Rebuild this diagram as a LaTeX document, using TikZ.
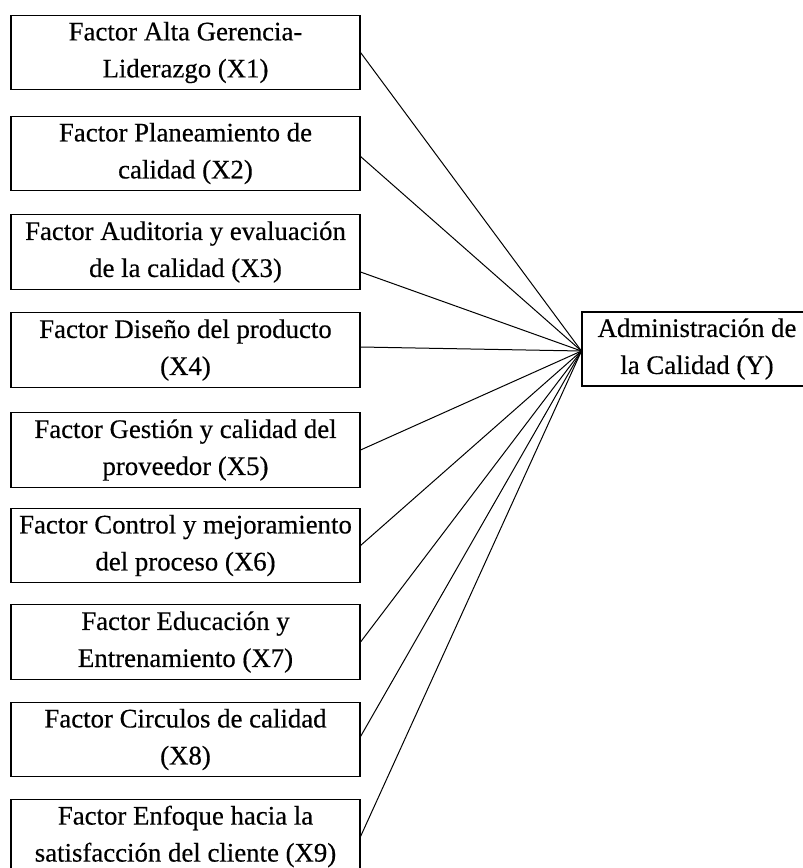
\documentclass[tikz,border=0pt]{standalone}
\usepackage{fontspec}
\setmainfont{Liberation Serif}
\newfontfamily\boxfont{Liberation Serif}[FakeBold=0.4]
\begin{document}
\begin{tikzpicture}[x=1pt,y=-1pt,
  fbox/.style={draw=black, line width=1.1pt, minimum width=349pt, minimum height=74.5pt, inner sep=0pt, align=center, font=\boxfont\fontsize{26.8}{37}\selectfont},
  ybox/.style={draw=black, line width=1.1pt, minimum width=230pt, minimum height=74pt, inner sep=0pt, align=center, font=\boxfont\fontsize{26.8}{37}\selectfont},
  link/.style={draw=black, line width=1pt}]
\useasboundingbox (0,0) rectangle (803,868);
\clip (0,0) rectangle (803,868);
\node[fbox] (X1) at (185.5,52.5) {Factor Alta Gerencia-\\Liderazgo (X1)};
\node[fbox] (X2) at (185.5,153.5) {Factor Planeamiento de\\calidad (X2)};
\node[fbox] (X3) at (185.5,252) {Factor Auditoria y evaluación\\de la calidad (X3)};
\node[fbox] (X4) at (185.5,350) {Factor Diseño del producto\\(X4)};
\node[fbox] (X5) at (185.5,450) {Factor Gestión y calidad del\\proveedor (X5)};
\node[fbox] (X6) at (185.5,545.5) {Factor Control y mejoramiento\\del proceso (X6)};
\node[fbox] (X7) at (185.5,642) {Factor Educación y\\Entrenamiento (X7)};
\node[fbox] (X8) at (185.5,739.5) {Factor Circulos de calidad\\(X8)};
\node[fbox] (X9) at (185.5,836.5) {Factor Enfoque hacia la\\satisfacción del cliente (X9)};
\node[ybox] (Y) at (697,349) {Administración de\\la Calidad (Y)};
\coordinate (J) at ([yshift=-2pt]Y.west);
\draw[link] (X1.east) -- (J);
\draw[link] ([yshift=-3pt]X2.east) -- (J);
\draw[link] ([yshift=-20pt]X3.east) -- (J);
\draw[link] ([yshift=3pt]X4.east) -- (J);
\draw[link] (X5.east) -- (J);
\draw[link] (X6.east) -- (J);
\draw[link] (X7.east) -- (J);
\draw[link] ([yshift=3pt]X8.east) -- (J);
\draw[link] (X9.east) -- (J);
\end{tikzpicture}
\end{document}
